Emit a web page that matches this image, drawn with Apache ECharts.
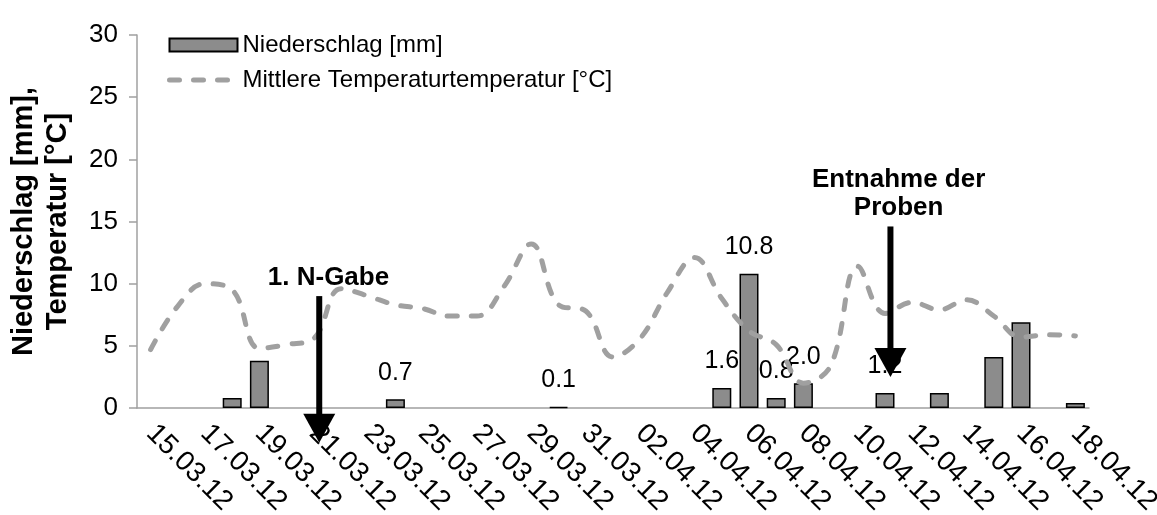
<!DOCTYPE html>
<html>
<head>
<meta charset="utf-8">
<script src="https://cdn.jsdelivr.net/npm/echarts@6/dist/echarts.min.js"></script>
<style>
  html, body { margin: 0; padding: 0; background: #fff; }
  #chart { width: 1157px; height: 515px; }
</style>
</head>
<body>
<div id="chart"></div>
<script>
// Daily weather record, 15 March to 18 April 2012
const days = [
  '15.03.12', '16.03.12', '17.03.12', '18.03.12', '19.03.12', '20.03.12', '21.03.12',
  '22.03.12', '23.03.12', '24.03.12', '25.03.12', '26.03.12', '27.03.12', '28.03.12',
  '29.03.12', '30.03.12', '31.03.12', '01.04.12', '02.04.12', '03.04.12', '04.04.12',
  '05.04.12', '06.04.12', '07.04.12', '08.04.12', '09.04.12', '10.04.12', '11.04.12',
  '12.04.12', '13.04.12', '14.04.12', '15.04.12', '16.04.12', '17.04.12', '18.04.12'
];

// Precipitation in mm (null = dry day)
const precipitation = [
  null, null, null, 0.8, 3.8, null, null,
  null, null, 0.7, null, null, null, null,
  null, 0.1, null, null, null, null, null,
  1.6, 10.8, 0.8, 2.0, null, null, 1.2,
  null, 1.2, null, 4.1, 6.9, null, 0.4
];

// Mean daily air temperature in °C
const temperature = [
  4.7, 8.2, 10.0, 9.5, 4.8, 5.1, 5.6,
  9.6, 9.0, 8.3, 8.0, 7.4, 7.4, 9.8,
  13.2, 8.3, 7.8, 4.1, 5.6, 9.3, 12.1,
  8.8, 6.2, 5.1, 2.0, 3.4, 11.4, 7.6,
  8.5, 7.9, 8.7, 7.4, 5.7, 5.9, 5.8
];

// Days whose precipitation amount is printed above the bar
const labelledDays = ['24.03.12', '30.03.12', '05.04.12', '06.04.12', '07.04.12', '08.04.12', '11.04.12'];

const seriesNames = ['Niederschlag [mm]', 'Mittlere Temperaturtemperatur [°C]'];
const axisTitle = 'Niederschlag [mm],\nTemperatur [°C]';
const eventLabels = ['1. N-Gabe', 'Entnahme der\nProben'];

const FONT = '"Liberation Sans", Arial, Helvetica, sans-serif';
const TEMP_LINE = { color: '#a0a0a0', width: 5, type: [10, 14], cap: 'round' };

const chart = echarts.init(document.getElementById('chart'), null, { renderer: 'canvas' });

const barData = precipitation.map((v, i) => ({
  value: v,
  label: { show: v != null && labelledDays.includes(days[i]) }
}));

chart.setOption({
  animation: false,
  backgroundColor: '#fff',
  textStyle: { fontFamily: FONT },
  grid: { left: 137, right: 68, top: 35, bottom: 107, containLabel: false, outerBoundsMode: 'none' },
  legend: {
    orient: 'vertical',
    left: 162,
    top: 28,
    itemWidth: 68,
    itemHeight: 13,
    itemGap: 11,
    selectedMode: false,
    textStyle: { fontSize: 24, color: '#000', fontFamily: FONT },
    data: [
      { name: seriesNames[0], icon: 'rect' },
      { name: seriesNames[1], itemStyle: { opacity: 0 }, lineStyle: TEMP_LINE }
    ]
  },
  xAxis: {
    type: 'category',
    data: days,
    boundaryGap: true,
    axisLine: { show: true, lineStyle: { color: '#a0a0a0', width: 1.5 } },
    axisTick: { show: false },
    axisLabel: {
      interval: 1,
      rotate: -45,
      margin: 21,
      fontSize: 28,
      color: '#000',
      fontFamily: FONT,
      hideOverlap: false
    },
    splitLine: { show: false }
  },
  yAxis: {
    type: 'value',
    min: 0,
    max: 30,
    interval: 5,
    axisLine: { show: true, lineStyle: { color: '#a0a0a0', width: 1.5 } },
    axisTick: { show: true, length: 8, lineStyle: { color: '#a0a0a0', width: 1.5 } },
    splitLine: { show: false },
    axisLabel: { fontSize: 26, color: '#000', margin: 19, fontFamily: FONT },
    name: axisTitle,
    nameLocation: 'middle',
    nameRotate: 90,
    nameGap: 62,
    nameTextStyle: { fontSize: 29, fontWeight: 'bold', color: '#000', lineHeight: 34, fontFamily: FONT }
  },
  series: [
    {
      name: seriesNames[0],
      type: 'bar',
      data: barData,
      barWidth: 19,
      itemStyle: { color: '#8c8c8c', borderColor: '#000', borderWidth: 1.5 },
      label: {
        position: 'top',
        distance: 14,
        fontSize: 25,
        color: '#000',
        fontFamily: FONT,
        formatter: p => Number(p.value).toFixed(1)
      },
      z: 2
    },
    {
      name: seriesNames[1],
      type: 'line',
      data: temperature,
      smooth: 0.4,
      symbol: 'none',
      lineStyle: TEMP_LINE,
      itemStyle: { color: '#a0a0a0' },
      z: 3
    }
  ]
});

// Field operations marked with arrows (x as fractional day index, y in axis units)
const eventMarks = [
  { x: 6.2, top: 9.0, tip: -2.8, textX: 6.54, textY: 10.5 },
  { x: 27.2, top: 14.6, tip: 2.5, textX: 27.5, textY: 17.2 }
];

function toPixel(xIndex, yValue) {
  const i0 = Math.floor(xIndex);
  const a = chart.convertToPixel({ xAxisIndex: 0, yAxisIndex: 0 }, [i0, yValue]);
  const b = chart.convertToPixel({ xAxisIndex: 0, yAxisIndex: 0 }, [i0 + 1, yValue]);
  return [a[0] + (b[0] - a[0]) * (xIndex - i0), a[1]];
}

const graphics = [];
eventMarks.forEach((m, k) => {
  const top = toPixel(m.x, m.top);
  const tip = toPixel(m.x, m.tip);
  const headH = 29, headW = 32, shaftW = 6;
  const headTop = tip[1] - headH;
  graphics.push({
    type: 'rect',
    shape: { x: top[0] - shaftW / 2, y: top[1], width: shaftW, height: headTop - top[1] + 1 },
    style: { fill: '#000' },
    z: 100
  });
  graphics.push({
    type: 'polygon',
    shape: { points: [[tip[0] - headW / 2, headTop], [tip[0] + headW / 2, headTop], [tip[0], tip[1]]] },
    style: { fill: '#000' },
    z: 100
  });
  const t = toPixel(m.textX, m.textY);
  graphics.push({
    type: 'text',
    x: t[0],
    y: t[1],
    style: {
      text: eventLabels[k],
      align: 'center',
      verticalAlign: 'middle',
      fontSize: 26,
      fontWeight: 'bold',
      fontFamily: FONT,
      lineHeight: 28,
      fill: '#000'
    },
    z: 100
  });
});
chart.setOption({ graphic: graphics });
</script>
</body>
</html>
